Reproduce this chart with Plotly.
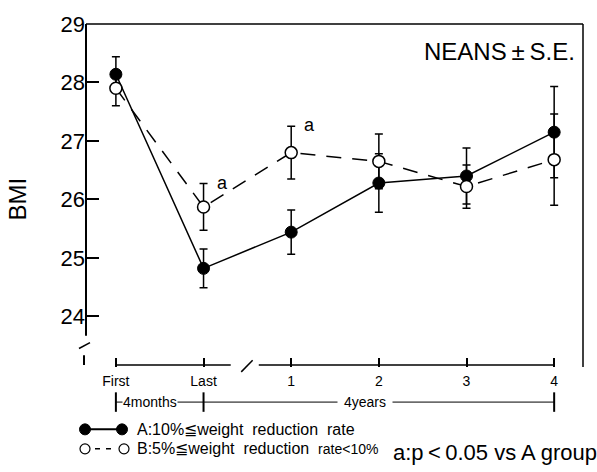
import plotly.graph_objects as go

categories = ["First", "Last", "1", "2", "3", "4"]
a_mean = [28.14, 24.82, 25.44, 26.28, 26.40, 27.15]
a_se = [0.30, 0.33, 0.38, 0.50, 0.48, 0.78]
b_mean = [27.90, 25.87, 26.80, 26.65, 26.22, 26.68]
b_se = [0.30, 0.40, 0.45, 0.47, 0.37, 0.78]
y_ticks = [24, 25, 26, 27, 28, 29]
sig_labels = ["", "a", "a", "", "", ""]

W, H = 597, 472
L, R, T, B = 86, 583, 15, 367
FONT = "Liberation Sans, Arial, Helvetica, sans-serif"


def px(x):
    return (x - L) / (R - L)


def py(y):
    return (B - y) / (B - T)


fig = go.Figure()
fig.add_trace(go.Scatter(
    x=categories, y=a_mean, mode="lines+markers",
    line=dict(color="black", width=1.5),
    marker=dict(size=12, color="black", line=dict(color="black", width=1)),
    error_y=dict(type="data", array=a_se, color="black", thickness=1.5, width=4),
    showlegend=False, cliponaxis=False,
))
fig.add_trace(go.Scatter(
    x=categories, y=b_mean, mode="lines+markers",
    line=dict(color="black", width=1.5, dash="15px,11px"),
    marker=dict(size=12, color="white", line=dict(color="black", width=1.5)),
    error_y=dict(type="data", array=b_se, color="black", thickness=1.5, width=4),
    showlegend=False, cliponaxis=False,
))

shapes = []
line = dict(color="black", width=1.5)
# top and right frame
shapes.append(dict(type="line", xref="paper", yref="paper", x0=0, x1=1, y0=1, y1=1, line=line))
shapes.append(dict(type="line", xref="paper", yref="paper", x0=1, x1=1, y0=0, y1=1, line=line))
# left axis with break
shapes.append(dict(type="line", xref="paper", yref="paper", x0=0, x1=0, y0=py(335), y1=1, line=dict(color="black", width=2)))
shapes.append(dict(type="line", xref="paper", yref="paper", x0=px(79), x1=px(90), y0=py(348), y1=py(342), line=line))
shapes.append(dict(type="line", xref="paper", yref="paper", x0=px(84), x1=px(84), y0=py(355), y1=py(365), line=dict(color="black", width=2)))
# x baseline with break
shapes.append(dict(type="line", xref="x", yref="paper", x0=0, x1=1.31, y0=py(365), y1=py(365), line=line))
shapes.append(dict(type="line", xref="x", yref="paper", x0=1.43, x1=1.56, y0=py(372), y1=py(360), line=line))
shapes.append(dict(type="line", xref="x", yref="paper", x0=1.63, x1=5, y0=py(365), y1=py(365), line=line))
# bracket row
shapes.append(dict(type="line", xref="x", yref="paper", x0=0, x1=5, y0=py(403), y1=py(403), line=dict(color="black", width=1)))
for c in [0, 1, 5]:
    shapes.append(dict(type="line", xref="x", yref="paper", x0=c, x1=c, y0=py(393), y1=py(413), line=dict(color="black", width=2)))

# legend glyphs
shapes.append(dict(type="line", xref="paper", yref="paper", x0=px(85), x1=px(122), y0=py(431), y1=py(431), line=dict(color="black", width=2)))
for cx in [85, 122]:
    shapes.append(dict(type="circle", xref="paper", yref="paper", xsizemode="pixel", ysizemode="pixel",
                       xanchor=px(cx), yanchor=py(431), x0=-5.5, x1=5.5, y0=-5.5, y1=5.5,
                       fillcolor="black", line=dict(color="black", width=1)))
shapes.append(dict(type="line", xref="paper", yref="paper", x0=px(95), x1=px(116), y0=py(451), y1=py(451),
                   line=dict(color="black", width=1.5, dash="5px,6px")))
for cx in [85, 124]:
    shapes.append(dict(type="circle", xref="paper", yref="paper", xsizemode="pixel", ysizemode="pixel",
                       xanchor=px(cx), yanchor=py(451), x0=-5, x1=5, y0=-5, y1=5,
                       fillcolor="white", line=dict(color="black", width=1.2)))

annotations = []
annotations.append(dict(text="BMI", xref="paper", yref="paper", x=px(17), y=py(195), showarrow=False,
                        xanchor="center", yanchor="middle",
                        textangle=-90, font=dict(size=24, family=FONT, color="black")))
annotations.append(dict(text="NEANS\u2009±\u2009S.E.", xref="paper", yref="paper", x=px(577), y=py(43),
                        xanchor="right", yanchor="middle", showarrow=False,
                        font=dict(size=24, family=FONT, color="black")))
for i, (val, se, lab) in enumerate(zip(b_mean, b_se, sig_labels)):
    if lab:
        annotations.append(dict(text=lab, x=i, y=val + se, xref="x", yref="y", showarrow=False,
                                xanchor="left", yanchor="middle", xshift=11, yshift=1,
                                font=dict(size=18, family=FONT, color="black")))
annotations.append(dict(text="4months", xref="x", yref="paper", x=0, y=py(403), xanchor="left", yanchor="middle",
                        xshift=6, showarrow=False, bgcolor="white", borderpad=0,
                        font=dict(size=14, family=FONT, color="black")))
annotations.append(dict(text="4years", xref="paper", yref="paper", x=px(365), y=py(403), xanchor="center",
                        yanchor="middle", showarrow=False, bgcolor="white", borderpad=6,
                        font=dict(size=14, family=FONT, color="black")))
annotations.append(dict(text="A:10%≦weight\u00a0\u00a0reduction\u00a0\u00a0rate", xref="paper", yref="paper",
                        x=px(135), y=py(431), xanchor="left", yanchor="middle", showarrow=False,
                        font=dict(size=16, family=FONT, color="black")))
annotations.append(dict(text="B:5%≦weight\u00a0\u00a0reduction\u00a0\u00a0<span style='font-size:14px'>rate&lt;10%</span>",
                        xref="paper", yref="paper",
                        x=px(135), y=py(451), xanchor="left", yanchor="middle", showarrow=False,
                        font=dict(size=16, family=FONT, color="black")))
annotations.append(dict(text="a:p\u2009<\u20090.05 vs A group", xref="paper", yref="paper",
                        x=px(599), y=py(455), xanchor="right", yanchor="middle", showarrow=False,
                        font=dict(size=22, family=FONT, color="black")))

fig.update_layout(
    width=W, height=H,
    margin=dict(l=L, r=W - R, t=T, b=H - B, pad=0),
    paper_bgcolor="white", plot_bgcolor="white",
    shapes=shapes, annotations=annotations,
    xaxis=dict(type="category", categoryorder="array", categoryarray=categories,
               range=[-0.341, 5.329], showgrid=False, zeroline=False, showline=False,
               ticks="inside", ticklen=9, tickwidth=1.5, tickcolor="black", ticklabelstandoff=4,
               tickfont=dict(size=14, family=FONT, color="black")),
    yaxis=dict(range=[23.133, 29], tickvals=y_ticks, showgrid=False, zeroline=False, showline=False,
               ticks="inside", ticklen=13, tickwidth=1.5, tickcolor="black",
               tickfont=dict(size=22, family=FONT, color="black")),
)

fig.write_html("out.html")
